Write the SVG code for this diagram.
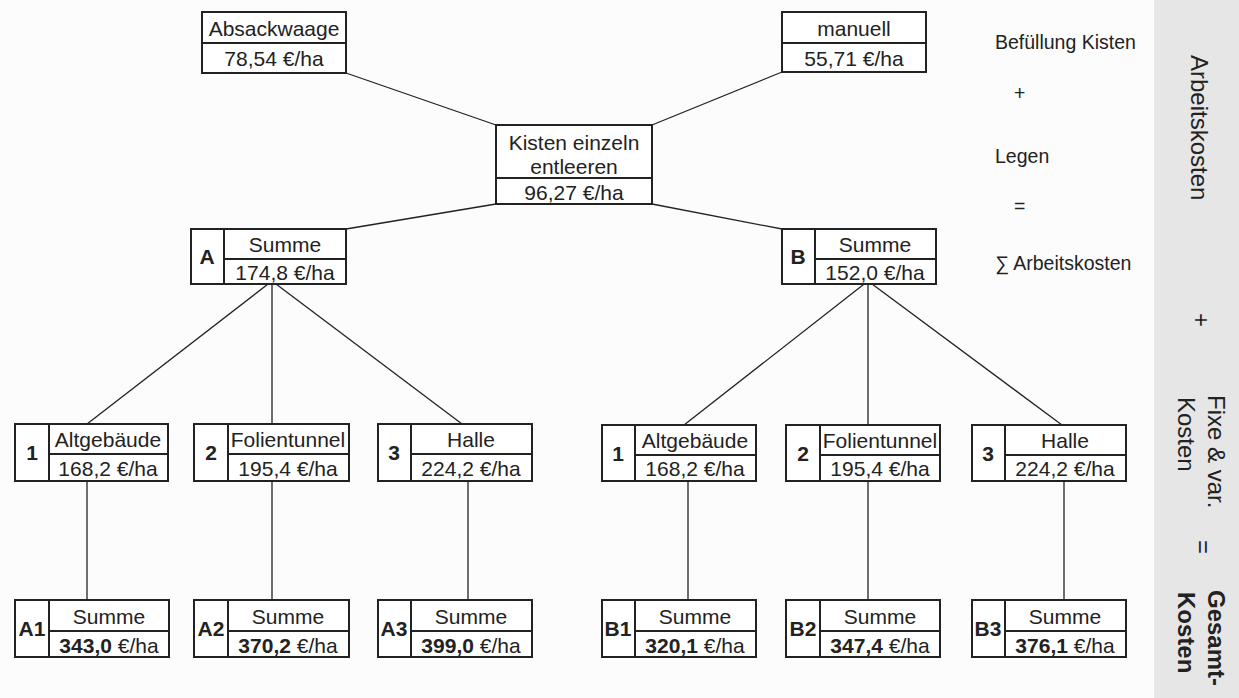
<svg xmlns="http://www.w3.org/2000/svg" width="1239" height="698" viewBox="0 0 1239 698">
<style>
.bx{fill:#fff;stroke:#222;stroke-width:2}
.dv{stroke:#222;stroke-width:2;fill:none}
.cn{stroke:#222;stroke-width:1.3;fill:none}
text{font-family:"Liberation Sans",Arial,sans-serif;fill:#222}
.t{font-size:21px;text-anchor:middle}
.l{font-size:21px;font-weight:bold;text-anchor:middle}
.s{font-size:19.5px}
.v{font-size:24px}
</style>
<rect x="0" y="0" width="1239" height="698" fill="#fcfcfc"/>
<rect x="1154" y="0" width="85" height="698" fill="#e6e6e6"/>

<g id="connectors">
<line class="cn" x1="346" y1="73" x2="496" y2="125"/>
<line class="cn" x1="782" y1="72" x2="652" y2="125"/>
<line class="cn" x1="496" y1="204" x2="346" y2="229"/>
<line class="cn" x1="652" y1="204" x2="782" y2="229"/>
<line class="cn" x1="272" y1="281" x2="87" y2="424"/>
<line class="cn" x1="272" y1="281" x2="272" y2="424"/>
<line class="cn" x1="272" y1="281" x2="462" y2="424"/>
<line class="cn" x1="868" y1="281" x2="684" y2="425"/>
<line class="cn" x1="868" y1="281" x2="868" y2="425"/>
<line class="cn" x1="868" y1="281" x2="1062" y2="425"/>
<line class="cn" x1="87" y1="481" x2="87" y2="600"/>
<line class="cn" x1="272" y1="481" x2="272" y2="600"/>
<line class="cn" x1="468" y1="481" x2="468" y2="600"/>
<line class="cn" x1="688" y1="481" x2="688" y2="600"/>
<line class="cn" x1="868" y1="481" x2="868" y2="600"/>
<line class="cn" x1="1064" y1="481" x2="1064" y2="600"/>
</g>

<g id="absackwaage">
<rect class="bx" x="202" y="12" width="144" height="61"/>
<line class="dv" x1="202" y1="43" x2="346" y2="43"/>
<text class="t" x="274" y="36">Absackwaage</text>
<text class="t" x="274" y="66">78,54 €/ha</text>
</g>
<g id="manuell">
<rect class="bx" x="782" y="12" width="144" height="60"/>
<line class="dv" x1="782" y1="43" x2="926" y2="43"/>
<text class="t" x="854" y="36">manuell</text>
<text class="t" x="854" y="66">55,71 €/ha</text>
</g>
<g id="kisten">
<rect class="bx" x="496" y="125" width="156" height="79"/>
<line class="dv" x1="496" y1="178" x2="652" y2="178"/>
<text class="t" x="574" y="150">Kisten einzeln</text>
<text class="t" x="574" y="174">entleeren</text>
<text class="t" x="574" y="200">96,27 €/ha</text>
</g>

<g id="A">
<rect class="bx" x="191" y="229" width="155" height="55"/>
<line class="dv" x1="224" y1="229" x2="224" y2="284"/>
<line class="dv" x1="224" y1="259" x2="346" y2="259"/>
<text class="l" x="207" y="264">A</text>
<text class="t" x="285" y="252">Summe</text>
<text class="t" x="285" y="280">174,8 €/ha</text>
</g>
<g id="B">
<rect class="bx" x="782" y="229" width="154" height="55"/>
<line class="dv" x1="815" y1="229" x2="815" y2="284"/>
<line class="dv" x1="815" y1="259" x2="936" y2="259"/>
<text class="l" x="798" y="264">B</text>
<text class="t" x="875" y="252">Summe</text>
<text class="t" x="875" y="280">152,0 €/ha</text>
</g>

<g id="A-1">
<rect class="bx" x="15" y="424" width="153" height="57"/>
<line class="dv" x1="49" y1="424" x2="49" y2="481"/>
<line class="dv" x1="49" y1="454" x2="168" y2="454"/>
<text class="l" x="32" y="460">1</text>
<text class="t" x="108" y="447">Altgebäude</text>
<text class="t" x="108" y="476">168,2 €/ha</text>
</g>
<g id="A-2">
<rect class="bx" x="194" y="424" width="155" height="57"/>
<line class="dv" x1="228" y1="424" x2="228" y2="481"/>
<line class="dv" x1="228" y1="454" x2="349" y2="454"/>
<text class="l" x="211" y="460">2</text>
<text class="t" x="288" y="447">Folientunnel</text>
<text class="t" x="288" y="476">195,4 €/ha</text>
</g>
<g id="A-3">
<rect class="bx" x="378" y="424" width="154" height="57"/>
<line class="dv" x1="411" y1="424" x2="411" y2="481"/>
<line class="dv" x1="411" y1="454" x2="532" y2="454"/>
<text class="l" x="394" y="460">3</text>
<text class="t" x="471" y="447">Halle</text>
<text class="t" x="471" y="476">224,2 €/ha</text>
</g>
<g id="B-1">
<rect class="bx" x="602" y="425" width="154" height="56"/>
<line class="dv" x1="635" y1="425" x2="635" y2="481"/>
<line class="dv" x1="635" y1="455" x2="756" y2="455"/>
<text class="l" x="618" y="461">1</text>
<text class="t" x="695" y="448">Altgebäude</text>
<text class="t" x="695" y="476">168,2 €/ha</text>
</g>
<g id="B-2">
<rect class="bx" x="786" y="425" width="154" height="56"/>
<line class="dv" x1="820" y1="425" x2="820" y2="481"/>
<line class="dv" x1="820" y1="455" x2="940" y2="455"/>
<text class="l" x="803" y="461">2</text>
<text class="t" x="880" y="448">Folientunnel</text>
<text class="t" x="880" y="476">195,4 €/ha</text>
</g>
<g id="B-3">
<rect class="bx" x="972" y="425" width="154" height="56"/>
<line class="dv" x1="1005" y1="425" x2="1005" y2="481"/>
<line class="dv" x1="1005" y1="455" x2="1126" y2="455"/>
<text class="l" x="988" y="461">3</text>
<text class="t" x="1065" y="448">Halle</text>
<text class="t" x="1065" y="476">224,2 €/ha</text>
</g>

<g id="A1">
<rect class="bx" x="15" y="600" width="154" height="57"/>
<line class="dv" x1="49" y1="600" x2="49" y2="657"/>
<line class="dv" x1="49" y1="631" x2="169" y2="631"/>
<text class="l" x="32" y="636">A1</text>
<text class="t" x="109" y="624">Summe</text>
<text class="t" x="109" y="653"><tspan font-weight="bold">343,0</tspan> €/ha</text>
</g>
<g id="A2">
<rect class="bx" x="194" y="600" width="155" height="57"/>
<line class="dv" x1="228" y1="600" x2="228" y2="657"/>
<line class="dv" x1="228" y1="631" x2="349" y2="631"/>
<text class="l" x="211" y="636">A2</text>
<text class="t" x="288" y="624">Summe</text>
<text class="t" x="288" y="653"><tspan font-weight="bold">370,2</tspan> €/ha</text>
</g>
<g id="A3">
<rect class="bx" x="378" y="600" width="154" height="57"/>
<line class="dv" x1="411" y1="600" x2="411" y2="657"/>
<line class="dv" x1="411" y1="631" x2="532" y2="631"/>
<text class="l" x="394" y="636">A3</text>
<text class="t" x="471" y="624">Summe</text>
<text class="t" x="471" y="653"><tspan font-weight="bold">399,0</tspan> €/ha</text>
</g>
<g id="B1">
<rect class="bx" x="602" y="600" width="154" height="57"/>
<line class="dv" x1="635" y1="600" x2="635" y2="657"/>
<line class="dv" x1="635" y1="631" x2="756" y2="631"/>
<text class="l" x="618" y="636">B1</text>
<text class="t" x="695" y="624">Summe</text>
<text class="t" x="695" y="653"><tspan font-weight="bold">320,1</tspan> €/ha</text>
</g>
<g id="B2">
<rect class="bx" x="786" y="600" width="154" height="57"/>
<line class="dv" x1="820" y1="600" x2="820" y2="657"/>
<line class="dv" x1="820" y1="631" x2="940" y2="631"/>
<text class="l" x="803" y="636">B2</text>
<text class="t" x="880" y="624">Summe</text>
<text class="t" x="880" y="653"><tspan font-weight="bold">347,4</tspan> €/ha</text>
</g>
<g id="B3">
<rect class="bx" x="972" y="600" width="154" height="57"/>
<line class="dv" x1="1005" y1="600" x2="1005" y2="657"/>
<line class="dv" x1="1005" y1="631" x2="1126" y2="631"/>
<text class="l" x="988" y="636">B3</text>
<text class="t" x="1065" y="624">Summe</text>
<text class="t" x="1065" y="653"><tspan font-weight="bold">376,1</tspan> €/ha</text>
</g>

<g id="legend">
<text class="s" x="995" y="49">Befüllung Kisten</text>
<text class="s" x="1014" y="100">+</text>
<text class="s" x="995" y="163">Legen</text>
<text class="s" x="1014" y="213">=</text>
<text class="s" x="995" y="270">∑ Arbeitskosten</text>
</g>

<g id="side">
<text class="v" transform="translate(1191,55) rotate(90)">Arbeitskosten</text>
<text class="v" transform="translate(1193,313) rotate(90)">+</text>
<text class="v" transform="translate(1208,395) rotate(90)">Fixe &amp; var.</text>
<text class="v" transform="translate(1178,397) rotate(90)">Kosten</text>
<text class="v" transform="translate(1195,540) rotate(90)">=</text>
<text class="v" font-weight="bold" transform="translate(1208,590) rotate(90)">Gesamt-</text>
<text class="v" font-weight="bold" transform="translate(1178,592) rotate(90)">Kosten</text>
</g>
</svg>
